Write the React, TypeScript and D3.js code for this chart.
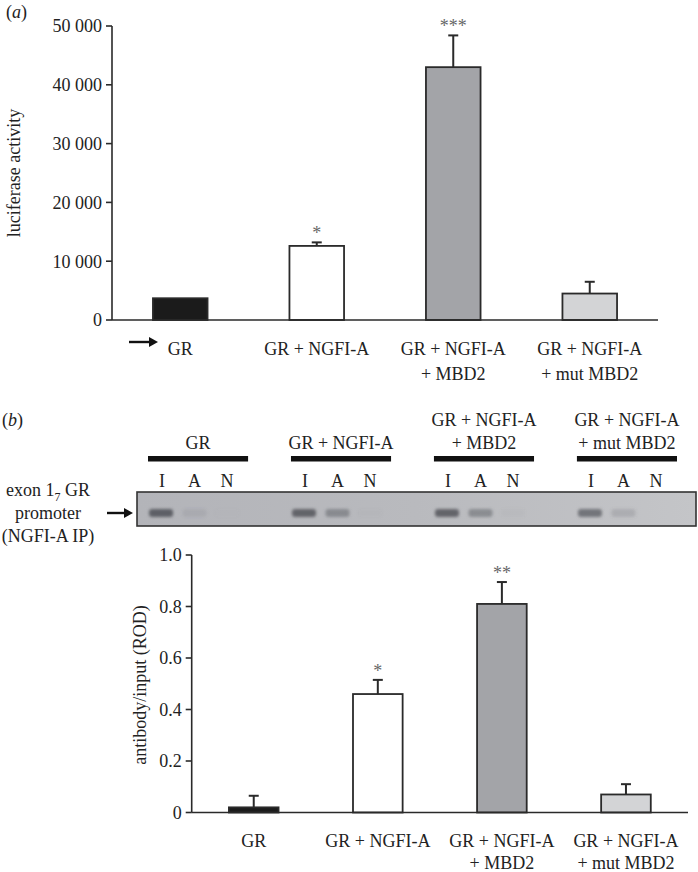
import React from "react";
import * as d3 from "d3";

// ---- data ----
const categories = ["GR", "GR+NGFI-A", "GR+NGFI-A+MBD2", "GR+NGFI-A+mutMBD2"];
const categoryLines = [
  ["GR"],
  ["GR + NGFI-A"],
  ["GR + NGFI-A", "+ MBD2"],
  ["GR + NGFI-A", "+ mut MBD2"],
];
const luciferaseMean = [3700, 12600, 43000, 4500];
const luciferaseErr = [0, 600, 5400, 2000];
const luciferaseSig = ["", "*", "***", ""];
const luciferaseTicks = [0, 10000, 20000, 30000, 40000, 50000];

const rodMean = [0.02, 0.46, 0.81, 0.07];
const rodErr = [0.045, 0.055, 0.085, 0.04];
const rodSig = ["", "*", "**", ""];
const rodTicks = [0, 0.2, 0.4, 0.6, 0.8, 1.0];

const lanes = ["I", "A", "N"];
// band intensity per group: [I, A, N]
const bandIntensity = [
  [0.95, 0.12, 0.02],
  [0.9, 0.5, 0.03],
  [0.9, 0.5, 0.05],
  [0.75, 0.2, 0.0],
];

const barFills = ["#1b1b1b", "#ffffff", "#a3a4a8", "#d3d4d6"];

const FONT = "'Liberation Serif', 'Times New Roman', serif";
const INK = "#2a2a2a";

function fmtThousands(v: number) {
  if (v === 0) return "0";
  const s = String(v);
  return s.slice(0, s.length - 3) + " " + s.slice(s.length - 3);
}

export default function App() {
  const W = 698;
  const H = 872;

  // Panel (a)
  const xA = d3.scaleBand<string>().domain(categories).range([112, 658]).paddingInner(0.6).paddingOuter(0.3);
  const yA = d3.scaleLinear().domain([0, 50000]).range([320, 26]);

  // Panel (b) chart
  const xB = d3.scaleBand<string>().domain(categories).range([191.7, 688]).paddingInner(0.6).paddingOuter(0.3);
  const yB = d3.scaleLinear().domain([0, 1]).range([812.5, 555]);

  // Gel
  const xG = d3.scaleBand<string>().domain(categories).range([148, 677]).paddingInner(0.3);
  const xLane = d3.scalePoint<string>().domain(lanes).range([-36, 29]);
  const gel = { x0: 137, x1: 696, y0: 492, y1: 526 };

  const renderBars = (
    x: d3.ScaleBand<string>,
    y: d3.ScaleLinear<number, number>,
    mean: number[],
    err: number[],
    sig: string[],
  ) =>
    categories.map((c, i) => {
      const bx = x(c)!;
      const bw = x.bandwidth();
      const cx = bx + bw / 2;
      const top = y(mean[i]);
      const base = y(0);
      const et = y(mean[i] + err[i]);
      return (
        <g key={c}>
          {err[i] > 0 && (
            <g stroke={INK} strokeWidth={2}>
              <line x1={cx} x2={cx} y1={top} y2={et} />
              <line x1={cx - 5} x2={cx + 5} y1={et} y2={et} />
            </g>
          )}
          <rect x={bx} y={top} width={bw} height={base - top} fill={barFills[i]} stroke={INK} strokeWidth={1.8} />
          {sig[i] && (
            <text x={cx} y={et - 3} textAnchor="middle" fontSize={18} fill="#666" fontFamily={FONT}>
              {sig[i]}
            </text>
          )}
        </g>
      );
    });

  const renderYAxis = (
    y: d3.ScaleLinear<number, number>,
    x0: number,
    ticks: number[],
    fmt: (v: number) => string,
  ) => (
    <g>
      <line x1={x0} x2={x0} y1={y(ticks[ticks.length - 1])} y2={y(0)} stroke={INK} strokeWidth={1.6} />
      {ticks.map((t) => (
        <g key={t}>
          <line x1={x0 - 6} x2={x0} y1={y(t)} y2={y(t)} stroke={INK} strokeWidth={1.6} />
          <text x={x0 - 10} y={y(t)} dy="0.35em" textAnchor="end" fontSize={18} fontFamily={FONT} fill="#222">
            {fmt(t)}
          </text>
        </g>
      ))}
    </g>
  );

  const renderXLabels = (x: d3.ScaleBand<string>, baseline: number, lineGap: number) =>
    categories.map((c, i) => (
      <text key={c} textAnchor="middle" fontSize={18} fontFamily={FONT} fill="#222">
        {categoryLines[i].map((ln, j) => (
          <tspan key={j} x={x(c)! + x.bandwidth() / 2} y={baseline + j * lineGap}>
            {ln}
          </tspan>
        ))}
      </text>
    ));

  const arrow = (x0: number, x1: number, y: number) => (
    <g>
      <line x1={x0} x2={x1 - 7} y1={y} y2={y} stroke="#111" strokeWidth={2.4} />
      <path d={`M${x1 - 9},${y - 5} L${x1},${y} L${x1 - 9},${y + 5} Z`} fill="#111" />
    </g>
  );

  return (
    <svg
      width={W}
      height={H}
      viewBox={`0 0 ${W} ${H}`}
      style={{ position: "absolute", left: 0, top: 0, background: "#fff" }}
      fontFamily={FONT}
    >
      <defs>
        <linearGradient id="gelGrad" x1="0" x2="1" y1="0" y2="0">
          <stop offset="0" stopColor="#b3b4b9" />
          <stop offset="0.5" stopColor="#b9babe" />
          <stop offset="1" stopColor="#c4c5c8" />
        </linearGradient>
        <filter id="blur" x="-30%" y="-80%" width="160%" height="260%">
          <feGaussianBlur stdDeviation="1.8" />
        </filter>
      </defs>
      <rect x={0} y={0} width={W} height={H} fill="#fff" />

      {/* ---------- Panel (a) ---------- */}
      <text x={6} y={18} fontSize={18} fontFamily={FONT} fill="#222">
        (<tspan fontStyle="italic">a</tspan>)
      </text>
      <text
        transform={`translate(20,173) rotate(-90)`}
        textAnchor="middle"
        fontSize={18}
        fontFamily={FONT}
        fill="#222"
      >
        luciferase activity
      </text>
      {renderBars(xA, yA, luciferaseMean, luciferaseErr, luciferaseSig)}
      {renderYAxis(yA, 112, luciferaseTicks, fmtThousands)}
      <line x1={112} x2={658} y1={yA(0)} y2={yA(0)} stroke={INK} strokeWidth={1.6} />
      {renderXLabels(xA, 355, 25)}
      {arrow(129, 158, 342)}

      {/* ---------- Panel (b) gel ---------- */}
      <text x={2} y={426} fontSize={18} fontFamily={FONT} fill="#222">
        (<tspan fontStyle="italic">b</tspan>)
      </text>
      {categories.map((c, i) => {
        const gx = xG(c)!;
        const gw = xG.bandwidth();
        const cx = gx + gw / 2;
        const lines = categoryLines[i];
        return (
          <g key={c}>
            <text textAnchor="middle" fontSize={18} fontFamily={FONT} fill="#222">
              {lines.map((ln, j) => (
                <tspan key={j} x={cx} y={449 - (lines.length - 1 - j) * 23}>
                  {ln}
                </tspan>
              ))}
            </text>
            <rect x={gx} y={456} width={gw} height={5.5} fill="#111" />
            {lanes.map((l) => (
              <text key={l} x={cx + xLane(l)!} y={487} textAnchor="middle" fontSize={18} fontFamily={FONT} fill="#222">
                {l}
              </text>
            ))}
          </g>
        );
      })}
      <rect
        x={gel.x0}
        y={gel.y0}
        width={gel.x1 - gel.x0}
        height={gel.y1 - gel.y0}
        fill="url(#gelGrad)"
        stroke="#333"
        strokeWidth={1.6}
      />
      <g filter="url(#blur)">
        {categories.map((c, i) => {
          const cx = xG(c)! + xG.bandwidth() / 2;
          return lanes.map((l, k) => (
            <rect
              key={c + l}
              x={cx + xLane(l)! - 12 - (k === 0 ? 1 : 0)}
              y={509}
              width={24}
              height={8}
              rx={3}
              fill="#5a5b61"
              opacity={bandIntensity[i][k]}
            />
          ));
        })}
      </g>
      {arrow(107, 133, 513)}
      <text textAnchor="middle" fontSize={18} fontFamily={FONT} fill="#222">
        <tspan x={48} y={496}>
          exon 1
          <tspan fontSize={12} dy={5}>7</tspan>
          <tspan dy={-5}> GR</tspan>
        </tspan>
        <tspan x={48} y={519}>promoter</tspan>
        <tspan x={48} y={542}>(NGFI-A IP)</tspan>
      </text>

      {/* ---------- Panel (b) chart ---------- */}
      <text
        transform={`translate(146,685) rotate(-90)`}
        textAnchor="middle"
        fontSize={18}
        fontFamily={FONT}
        fill="#222"
      >
        antibody/input (ROD)
      </text>
      {renderBars(xB, yB, rodMean, rodErr, rodSig)}
      {renderYAxis(yB, 191.7, rodTicks, (v) => (v === 0 ? "0" : v.toFixed(1)))}
      <line x1={191.7} x2={688} y1={yB(0)} y2={yB(0)} stroke={INK} strokeWidth={1.6} />
      {renderXLabels(xB, 847, 22)}
    </svg>
  );
}
